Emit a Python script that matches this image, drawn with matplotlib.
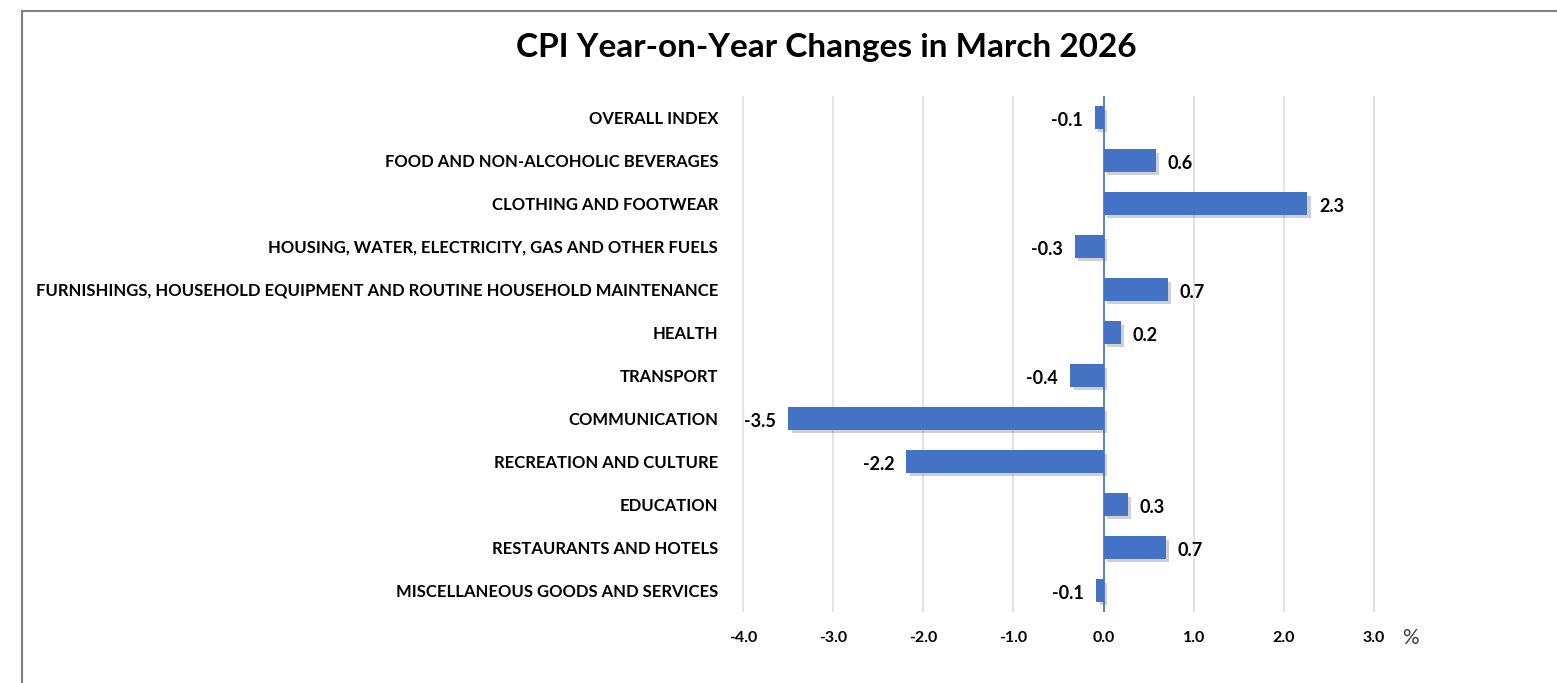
import numpy as np
import matplotlib.pyplot as plt
import matplotlib.patheffects as pe
from matplotlib.patches import Rectangle

# data
categories = [
    "OVERALL INDEX",
    "FOOD AND NON-ALCOHOLIC BEVERAGES",
    "CLOTHING AND FOOTWEAR",
    "HOUSING, WATER, ELECTRICITY, GAS AND OTHER FUELS",
    "FURNISHINGS, HOUSEHOLD EQUIPMENT AND ROUTINE HOUSEHOLD MAINTENANCE",
    "HEALTH",
    "TRANSPORT",
    "COMMUNICATION",
    "RECREATION AND CULTURE",
    "EDUCATION",
    "RESTAURANTS AND HOTELS",
    "MISCELLANEOUS GOODS AND SERVICES",
]
values = [-0.1, 0.58, 2.26, -0.32, 0.71, 0.19, -0.37, -3.5, -2.19, 0.27, 0.69, -0.08]
xticks = [-4, -3, -2, -1, 0, 1, 2, 3]

plt.rcParams['font.family'] = ['Lato', 'DejaVu Sans']

W, H = 1557, 683
fig = plt.figure(figsize=(W / 100, H / 100), dpi=100)

# outer frame (cut off on right/bottom like the screenshot)
fig.patches.append(Rectangle((22 / W, -0.1), 1.2, (H - 11) / H + 0.1,
                             transform=fig.transFigure, fill=False,
                             edgecolor='#7f7f7f', linewidth=1.5))

px_unit = 90.14
x_left = 743 - 0.2 * px_unit
x_right = 1374 + 0.2 * px_unit
ax = fig.add_axes([x_left / W, (H - 612) / H, (x_right - x_left) / W, (612 - 96) / H])

y = np.arange(len(categories))
bars = ax.barh(y, values, height=0.52, color='#4472C4', zorder=3)
for b in bars:
    b.set_path_effects([pe.SimplePatchShadow(offset=(2.5, -2.5), shadow_rgbFace='#666666', alpha=0.3),
                        pe.Normal()])

ax.axvline(0, color='#4472C4', linewidth=1.2, zorder=4)

for yi, v in zip(y, values):
    if v >= 0:
        ax.annotate(f"{v:.1f}", (v, yi), xytext=(12, -3), textcoords='offset pixels',
                    ha='left', va='center', fontsize=13, fontweight='bold')
    else:
        ax.annotate(f"{v:.1f}", (v, yi), xytext=(-12, -3), textcoords='offset pixels',
                    ha='right', va='center', fontsize=13, fontweight='bold')

ax.set_xlim(-4.2, 3.2)
ax.set_ylim(len(categories) - 0.5, -0.5)
ax.set_xticks(xticks)
ax.set_xticklabels([f"{t:.1f}" for t in xticks], fontsize=11.5, fontweight='bold')
ax.set_yticks(y)
ax.set_yticklabels(categories, fontsize=12, fontweight='bold')
ax.tick_params(length=0)
ax.tick_params(axis='x', pad=14)
ax.tick_params(axis='y', pad=5)
ax.grid(axis='x', color='#d9dde6', linewidth=1.2, zorder=0)
for s in ax.spines.values():
    s.set_visible(False)

fig.text(1402 / W, 1 - 638 / H, "%", fontsize=15, color='#404040', ha='left', va='center')
fig.text(826 / W, 1 - 47 / H, "CPI Year-on-Year Changes in March 2026",
         fontsize=24, fontweight='bold', ha='center', va='center')

fig.savefig('out.png', dpi=100)
